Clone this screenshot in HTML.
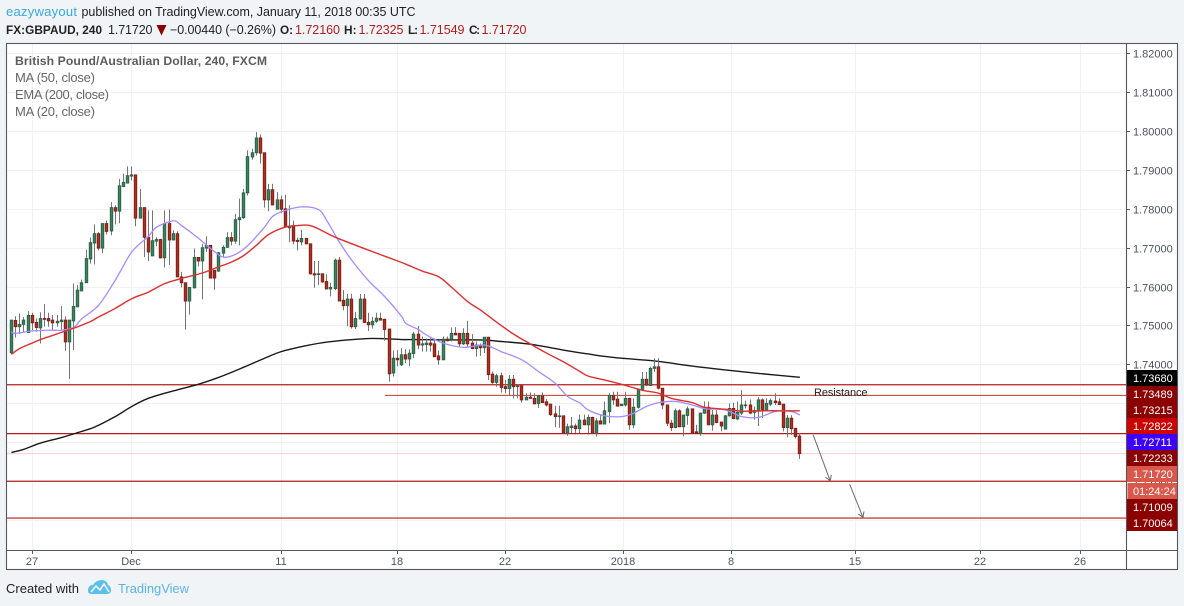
<!DOCTYPE html>
<html lang="en">
<head>
<meta charset="utf-8">
<title>FX:GBPAUD chart</title>
<style>
html,body{margin:0;padding:0;width:1184px;height:606px;overflow:hidden;background:#f1f4f7;}
svg{display:block;font-family:"Liberation Sans",Arial,sans-serif;}
</style>
</head>
<body>
<svg id="root" xmlns="http://www.w3.org/2000/svg" width="1184" height="606" viewBox="0 0 1184 606">
  <rect x="0" y="0" width="1184" height="606" fill="#f1f4f7"/>

  <g font-size="12.5" fill="#222">
    <text x="6" y="16" font-size="13" fill="#36a9e0" textLength="71">eazywayout</text>
    <text x="81.5" y="16" textLength="334">published on TradingView.com, January 11, 2018 00:35 UTC</text>
  </g>

  <g font-size="12.5" fill="#222">
    <text x="6" y="34" font-size="11.8" font-weight="bold" textLength="96">FX:GBPAUD, 240</text>
    <text x="108" y="34" textLength="44.5">1.71720</text>
    <polygon points="156.5,25 166.5,25 161.5,35.5" fill="#8b0000"/>
    <text x="170" y="34" textLength="106">−0.00440 (−0.26%)</text>
    <text x="280" y="34" font-size="11.8" font-weight="bold" textLength="13">O:</text>
    <text x="295" y="34" fill="#b21c1c" textLength="45">1.72160</text>
    <text x="344" y="34" font-size="11.8" font-weight="bold" textLength="12.5">H:</text>
    <text x="358.5" y="34" fill="#b21c1c" textLength="45">1.72325</text>
    <text x="408" y="34" font-size="11.8" font-weight="bold" textLength="10">L:</text>
    <text x="419.5" y="34" fill="#b21c1c" textLength="45">1.71549</text>
    <text x="469" y="34" font-size="11.8" font-weight="bold" textLength="11">C:</text>
    <text x="481.5" y="34" fill="#b21c1c" textLength="45">1.71720</text>
  </g>

  <rect x="6.5" y="43.5" width="1171" height="526" fill="#ffffff"/>
  <g id="grid"></g>
  <g id="levels"></g>
  <g id="ema"></g>
  <g id="candles"></g>
  <g id="mas"></g>
  <g id="arrows"></g>

  <text x="814" y="396" font-size="11" fill="#222" textLength="53.5">Resistance</text>

  <g font-size="13" fill="#666">
    <text x="15" y="65" font-size="12.2" font-weight="bold" fill="#5c5c5c" textLength="252">British Pound/Australian Dollar, 240, FXCM</text>
    <text x="15" y="82" textLength="80">MA (50, close)</text>
    <text x="15" y="99" textLength="94">EMA (200, close)</text>
    <text x="15" y="116" textLength="80">MA (20, close)</text>
  </g>

  <rect x="1127" y="44" width="50" height="525" fill="#ffffff"/>
  <g id="priceAxis"></g>
  <g id="timeAxis"></g>
  <g id="priceLabels"></g>

  <g stroke="#55585f" stroke-width="1.1" fill="none">
    <rect x="6.5" y="43.5" width="1171" height="526"/>
    <line x1="1126.5" y1="43.5" x2="1126.5" y2="569.5"/>
    <line x1="6.5" y1="550.5" x2="1177.5" y2="550.5"/>
  </g>

  <g>
    <text x="6" y="593" font-size="13" fill="#222" textLength="73">Created with</text>
    <g>
      <path d="M88 591 Q88 585 93 585 Q96 580 102 580 Q107 580 108 585 Q111.500 587 111 591 Q110 594 107 594 L92 594 Q88 594 88 591 Z" fill="#5bbfe8"/>
      <path d="M91 592 L96 586 L100 590 L104 584 L109 592" fill="none" stroke="#f1f4f7" stroke-width="1.600"/>
    </g>
    <text x="118" y="593" font-size="13" fill="#5ab5e5" textLength="71">TradingView</text>
  </g>
</svg>

<script>
const opens = [
1.7431,1.7514,1.7498,1.7504,1.7483,1.7527,1.7509,1.7495,1.7519,1.7519,
1.7515,1.7508,1.7511,1.7515,1.7459,1.7513,1.7549,1.7590,1.7611,1.7672,
1.7713,1.7737,1.7700,1.7763,1.7744,1.7804,1.7795,1.7858,1.7867,1.7885,
1.7888,1.7777,1.7804,1.7728,1.7680,1.7718,1.7722,1.7675,1.7763,1.7721,
1.7737,1.7626,1.7611,1.7564,1.7598,1.7676,1.7667,1.7700,1.7707,1.7643,
1.7641,1.7687,1.7702,1.7727,1.7718,1.7773,1.7778,1.7842,1.7934,1.7945,
1.7983,1.7945,1.7824,1.7850,1.7800,1.7824,1.7801,1.7752,1.7756,1.7720,
1.7716,1.7725,1.7711,1.7634,1.7632,1.7634,1.7614,1.7595,1.7596,1.7669,
1.7566,1.7552,1.7569,1.7498,1.7518,1.7569,1.7509,1.7503,1.7512,1.7519,
1.7517,1.7492,1.7379,1.7417,1.7400,1.7426,1.7415,1.7429,1.7479,1.7451,
1.7452,1.7456,1.7454,1.7423,1.7413,1.7466,1.7466,1.7481,1.7481,1.7454,
1.7481,1.7456,1.7442,1.7451,1.7444,1.7471,1.7376,1.7355,1.7372,1.7344,
1.7339,1.7363,1.7344,1.7346,1.7310,1.7317,1.7314,1.7301,1.7320,1.7305,
1.7299,1.7274,1.7267,1.7269,1.7225,1.7239,1.7243,1.7236,1.7258,1.7246,
1.7265,1.7225,1.7256,1.7248,1.7280,1.7321,1.7312,1.7295,1.7297,1.7314,
1.7246,1.7291,1.7337,1.7363,1.7347,1.7391,1.7395,1.7340,1.7297,1.7250,
1.7239,1.7282,1.7241,1.7270,1.7287,1.7228,1.7224,1.7276,1.7291,1.7246,
1.7271,1.7253,1.7235,1.7269,1.7288,1.7261,1.7276,1.7295,1.7297,1.7278,
1.7282,1.7310,1.7284,1.7299,1.7307,1.7305,1.7299,1.7239,1.7263,1.7237,
1.7217];
const highs = [
1.7515,1.7525,1.7532,1.7523,1.7538,1.7534,1.7519,1.7535,1.7556,1.7534,
1.7528,1.7528,1.7551,1.7525,1.7515,1.7609,1.7605,1.7619,1.7696,1.7727,
1.7761,1.7741,1.7763,1.7771,1.7818,1.7810,1.7878,1.7891,1.7910,1.7910,
1.7888,1.7852,1.7805,1.7797,1.7797,1.7728,1.7724,1.7797,1.7799,1.7746,
1.7743,1.7639,1.7611,1.7599,1.7699,1.7677,1.7711,1.7730,1.7707,1.7643,
1.7690,1.7707,1.7741,1.7741,1.7788,1.7827,1.7852,1.7951,1.7955,1.7998,
1.7992,1.7945,1.7865,1.7865,1.7844,1.7835,1.7837,1.7810,1.7771,1.7727,
1.7747,1.7726,1.7711,1.7667,1.7667,1.7634,1.7633,1.7611,1.7673,1.7677,
1.7592,1.7582,1.7583,1.7536,1.7582,1.7582,1.7534,1.7523,1.7534,1.7534,
1.7519,1.7492,1.7437,1.7438,1.7443,1.7440,1.7440,1.7485,1.7500,1.7473,
1.7468,1.7471,1.7468,1.7437,1.7473,1.7473,1.7496,1.7497,1.7481,1.7494,
1.7513,1.7479,1.7460,1.7455,1.7471,1.7471,1.7383,1.7377,1.7380,1.7361,
1.7374,1.7374,1.7349,1.7346,1.7327,1.7329,1.7327,1.7320,1.7329,1.7312,
1.7299,1.7295,1.7295,1.7269,1.7249,1.7266,1.7249,1.7272,1.7272,1.7272,
1.7267,1.7263,1.7271,1.7306,1.7327,1.7331,1.7331,1.7299,1.7331,1.7314,
1.7314,1.7337,1.7382,1.7382,1.7395,1.7417,1.7417,1.7340,1.7297,1.7259,
1.7288,1.7286,1.7271,1.7293,1.7287,1.7246,1.7277,1.7306,1.7306,1.7284,
1.7284,1.7254,1.7271,1.7301,1.7303,1.7306,1.7335,1.7308,1.7311,1.7293,
1.7317,1.7314,1.7314,1.7314,1.7327,1.7314,1.7299,1.7271,1.7271,1.7237,
1.7224];
const lows = [
1.7429,1.7470,1.7479,1.7485,1.7482,1.7489,1.7485,1.7455,1.7498,1.7498,
1.7491,1.7498,1.7491,1.7436,1.7364,1.7438,1.7549,1.7590,1.7611,1.7660,
1.7658,1.7694,1.7687,1.7735,1.7733,1.7761,1.7764,1.7857,1.7867,1.7874,
1.7756,1.7776,1.7677,1.7667,1.7679,1.7705,1.7673,1.7650,1.7657,1.7720,
1.7626,1.7599,1.7491,1.7529,1.7596,1.7653,1.7568,1.7690,1.7622,1.7593,
1.7639,1.7677,1.7701,1.7707,1.7711,1.7707,1.7775,1.7835,1.7927,1.7938,
1.7917,1.7804,1.7795,1.7810,1.7799,1.7790,1.7752,1.7716,1.7710,1.7694,
1.7707,1.7710,1.7632,1.7598,1.7605,1.7611,1.7595,1.7576,1.7592,1.7564,
1.7540,1.7499,1.7493,1.7492,1.7517,1.7508,1.7487,1.7493,1.7508,1.7515,
1.7462,1.7357,1.7370,1.7396,1.7397,1.7404,1.7397,1.7417,1.7440,1.7434,
1.7434,1.7434,1.7420,1.7400,1.7413,1.7460,1.7460,1.7477,1.7445,1.7451,
1.7445,1.7440,1.7421,1.7423,1.7430,1.7361,1.7351,1.7344,1.7329,1.7327,
1.7323,1.7314,1.7314,1.7303,1.7310,1.7312,1.7298,1.7289,1.7302,1.7293,
1.7269,1.7240,1.7238,1.7223,1.7218,1.7225,1.7225,1.7225,1.7246,1.7225,
1.7223,1.7215,1.7248,1.7248,1.7250,1.7297,1.7293,1.7295,1.7293,1.7233,
1.7237,1.7288,1.7335,1.7346,1.7346,1.7382,1.7337,1.7286,1.7243,1.7230,
1.7237,1.7240,1.7216,1.7246,1.7224,1.7224,1.7218,1.7274,1.7246,1.7231,
1.7250,1.7229,1.7235,1.7267,1.7260,1.7259,1.7271,1.7288,1.7274,1.7259,
1.7243,1.7263,1.7282,1.7294,1.7297,1.7297,1.7229,1.7214,1.7220,1.7211,
1.7158];
const closes = [
1.7515,1.7498,1.7504,1.7515,1.7527,1.7508,1.7496,1.7519,1.7518,1.7513,
1.7508,1.7512,1.7515,1.7459,1.7515,1.7550,1.7592,1.7611,1.7673,1.7714,
1.7737,1.7700,1.7763,1.7743,1.7804,1.7795,1.7860,1.7869,1.7886,1.7888,
1.7777,1.7804,1.7728,1.7690,1.7719,1.7722,1.7675,1.7763,1.7721,1.7737,
1.7626,1.7611,1.7564,1.7599,1.7676,1.7667,1.7701,1.7707,1.7623,1.7623,
1.7688,1.7702,1.7727,1.7718,1.7773,1.7778,1.7842,1.7935,1.7945,1.7983,
1.7944,1.7824,1.7850,1.7811,1.7824,1.7800,1.7754,1.7756,1.7718,1.7717,
1.7725,1.7711,1.7634,1.7631,1.7634,1.7613,1.7595,1.7599,1.7669,1.7564,
1.7552,1.7569,1.7498,1.7519,1.7569,1.7509,1.7503,1.7512,1.7520,1.7515,
1.7491,1.7377,1.7417,1.7413,1.7426,1.7415,1.7430,1.7479,1.7451,1.7454,
1.7456,1.7451,1.7421,1.7413,1.7466,1.7462,1.7481,1.7477,1.7454,1.7481,
1.7454,1.7442,1.7451,1.7444,1.7471,1.7375,1.7355,1.7372,1.7342,1.7339,
1.7363,1.7344,1.7346,1.7310,1.7317,1.7314,1.7300,1.7320,1.7303,1.7297,
1.7272,1.7267,1.7269,1.7225,1.7241,1.7243,1.7236,1.7258,1.7246,1.7265,
1.7225,1.7256,1.7248,1.7282,1.7321,1.7310,1.7294,1.7299,1.7314,1.7246,
1.7291,1.7337,1.7363,1.7348,1.7391,1.7395,1.7340,1.7297,1.7250,1.7239,
1.7282,1.7241,1.7271,1.7287,1.7226,1.7224,1.7276,1.7291,1.7246,1.7271,
1.7252,1.7243,1.7269,1.7288,1.7262,1.7278,1.7297,1.7297,1.7276,1.7283,
1.7310,1.7284,1.7301,1.7308,1.7303,1.7298,1.7239,1.7263,1.7236,1.7216,
1.7172];

const ma20Bars = [0,1,5,9,12,15,17,21,25,29,33,35,39,41,45,48,51,54,57,61,63,66,70,74,76,79,82,86,90,94,95,98,100,104,109,114,118,123,127,131,134,137,139,143,147,150,153,156,160,164,167,172,176,180,184,188,190];
const ma20Values = [1.7485,1.7481,1.7487,1.7489,1.7489,1.7496,1.7519,1.7553,1.7617,1.7690,1.7730,1.7754,1.7770,1.7758,1.7726,1.7699,1.7677,1.7684,1.7707,1.7754,1.7782,1.7797,1.7806,1.7799,1.7771,1.7716,1.7669,1.7617,1.7575,1.7525,1.7507,1.7491,1.7477,1.7456,1.7445,1.7451,1.7434,1.7413,1.7383,1.7353,1.7319,1.7302,1.7284,1.7269,1.7267,1.7276,1.7293,1.7303,1.7306,1.7297,1.7288,1.7284,1.7267,1.7265,1.7280,1.7280,1.7271];

const ma50Bars = [0,2,5,7,10,13,16,19,21,25,29,33,37,41,46,50,53,56,59,62,66,69,72,75,78,84,89,91,95,99,103,106,110,113,117,121,125,129,133,137,139,143,147,152,156,159,164,167,172,176,182,186,190];
const ma50Values = [1.7427,1.7442,1.7456,1.7465,1.7476,1.7487,1.7498,1.7511,1.7523,1.7545,1.7570,1.7587,1.7609,1.7622,1.7636,1.7652,1.7664,1.7681,1.7707,1.7735,1.7754,1.7758,1.7758,1.7744,1.7728,1.7703,1.7683,1.7675,1.7659,1.7641,1.7626,1.7600,1.7562,1.7541,1.7509,1.7479,1.7454,1.7430,1.7408,1.7383,1.7371,1.7361,1.7350,1.7335,1.7327,1.7314,1.7303,1.7291,1.7286,1.7281,1.7282,1.7282,1.7282];

const ema200Bars = [0,3,7,12,16,20,25,29,33,39,45,50,56,61,65,70,75,81,87,94,97,105,113,117,125,134,139,142,147,155,164,172,180,190];
const ema200Values = [1.7175,1.7183,1.7199,1.7213,1.7226,1.7240,1.7267,1.7293,1.7314,1.7333,1.7350,1.7368,1.7394,1.7417,1.7434,1.7447,1.7457,1.7464,1.7468,1.7465,1.7465,1.7464,1.7464,1.7461,1.7453,1.7436,1.7428,1.7423,1.7417,1.7410,1.7397,1.7387,1.7378,1.7368];

const priceTicks = [1.82,1.81,1.80,1.79,1.78,1.77,1.76,1.75,1.74,1.73,1.72,1.71,1.70];
const timeTickBars = [5,29,65.2,93.1,119.1,147.4,173.4,203.3,233.4,257.5];
const timeTickLabels = ["27","Dec","11","18","22","2018","8","15","22","26"];

const fullLevels = [1.73489,1.72233,1.71009,1.70064];
const resistanceLevel = 1.73215;
const resistanceStartBar = 90;
const lastPrice = 1.7172;

const arrowStartBars = [193.2,202];
const arrowStartPrices = [1.7220,1.7093];
const arrowEndBars = [197.3,205.2];
const arrowEndPrices = [1.7102,1.7008];

const priceLabelTexts = ["1.73680","1.73489","1.73215","1.72822","1.72711","1.72233","1.71720"];
const lowerLabelTexts = ["1.71009","1.70064"];
const countdownText = "01:24:24";

const NS = "http://www.w3.org/2000/svg";
function xOf(bar){ return 11.4 + 4.15 * bar; }
function snap(bar){ return Math.round(xOf(bar) - 0.5) + 0.5; }
function yOf(price){ return 53.5 + (1.82 - price) * 3892; }
function make(tag, parentId, attrs){
  const el = document.createElementNS(NS, tag);
  for (const k in attrs) el.setAttribute(k, attrs[k]);
  document.getElementById(parentId).appendChild(el);
  return el;
}
function pathOf(bars, values){
  const pts = bars.map(function(b, i){ return [xOf(b), yOf(values[i])]; });
  let d = "M" + pts[0][0].toFixed(2) + " " + pts[0][1].toFixed(2);
  for (let i = 0; i < pts.length - 1; i++) {
    const p0 = pts[Math.max(i - 1, 0)], p1 = pts[i], p2 = pts[i + 1], p3 = pts[Math.min(i + 2, pts.length - 1)];
    const c1x = p1[0] + (p2[0] - p0[0]) / 6, c1y = p1[1] + (p2[1] - p0[1]) / 6;
    const c2x = p2[0] - (p3[0] - p1[0]) / 6, c2y = p2[1] - (p3[1] - p1[1]) / 6;
    d += " C" + c1x.toFixed(2) + " " + c1y.toFixed(2) + " " + c2x.toFixed(2) + " " + c2y.toFixed(2) + " " + p2[0].toFixed(2) + " " + p2[1].toFixed(2);
  }
  return d;
}

priceTicks.forEach(function(p){
  const y = Math.floor(yOf(p)) + 0.5;
  const g = make("line", "grid", {x1:7, x2:1126, y1:y, y2:y, stroke:"#f0f1f2", "stroke-width":1});
  
  
  const t = make("line", "priceAxis", {x1:1126.5, x2:1130, y1:y, y2:y, stroke:"#55585f", "stroke-width":1});
  
  
  const l = make("text", "priceAxis", {x:1133, y:y + 4.2, "font-size":11, fill:"#4c525e"});
  
  
  l.textContent = p.toFixed(5);
});

timeTickBars.forEach(function(b, i){
  const x = snap(b);
  const g = make("line", "grid", {x1:x, x2:x, y1:44, y2:550, stroke:"#f0f1f2", "stroke-width":1});
  
  
  const t = make("line", "timeAxis", {x1:x, x2:x, y1:550.5, y2:554, stroke:"#55585f", "stroke-width":1});
  
  
  const l = make("text", "timeAxis", {x:x - 0.5, y:565, "font-size":11, fill:"#4c525e", "text-anchor":"middle"});
  
  
  l.textContent = timeTickLabels[i];
});

const lastLine = make("line", "levels", {x1:7, x2:1126, y1:yOf(lastPrice), y2:yOf(lastPrice), stroke:"#f6cfcb", "stroke-width":1});



fullLevels.forEach(function(p){
  const l = make("line", "levels", {x1:7, x2:1126, y1:yOf(p), y2:yOf(p), stroke:"#b71c1c", "stroke-width":1.2});
  
  
});

const resLine = make("line", "levels", {x1:xOf(resistanceStartBar), x2:1126, y1:yOf(resistanceLevel), y2:yOf(resistanceLevel), stroke:"#c0392b", "stroke-width":1});



const emaLine = make("path", "ema", {d:pathOf(ema200Bars, ema200Values), fill:"none", stroke:"#1a1a1a", "stroke-width":1.4, "stroke-linejoin":"round"});



opens.forEach(function(o, i){
  const c = closes[i];
  const up = c >= o;
  const x = snap(i);
  const wick = make("line", "candles", {x1:x, x2:x, y1:yOf(highs[i]), y2:yOf(lows[i]), stroke:"#757575", "stroke-width":1});
  
  
  const top = yOf(Math.max(o, c));
  const bottom = yOf(Math.min(o, c));
  const body = make("rect", "candles", {x:x - 1.25, y:top, width:2.5, height:Math.max(bottom - top, 0.8), fill:up ? "#3a8560" : "#ad2e22", stroke:up ? "#2c5f46" : "#7a1f17", "stroke-width":0.9});
  
  
});

const ma20Line = make("path", "mas", {d:pathOf(ma20Bars, ma20Values), fill:"none", stroke:"#a58cff", "stroke-width":1.3, "stroke-linejoin":"round"});



const ma50Line = make("path", "mas", {d:pathOf(ma50Bars, ma50Values), fill:"none", stroke:"#dc2f2f", "stroke-width":1.4, "stroke-linejoin":"round"});



arrowStartBars.forEach(function(b, i){
  const x1 = xOf(b), y1 = yOf(arrowStartPrices[i]);
  const x2 = xOf(arrowEndBars[i]), y2 = yOf(arrowEndPrices[i]);
  const a = Math.atan2(y2 - y1, x2 - x1);
  const hx1 = x2 - 6 * Math.cos(a - 0.55), hy1 = y2 - 6 * Math.sin(a - 0.55);
  const hx2 = x2 - 6 * Math.cos(a + 0.55), hy2 = y2 - 6 * Math.sin(a + 0.55);
  const d = "M" + x1 + " " + y1 + " L" + x2 + " " + y2 + " M" + hx1 + " " + hy1 + " L" + x2 + " " + y2 + " L" + hx2 + " " + hy2;
  const arrow = make("path", "arrows", {d:d, fill:"none", stroke:"#6b6b6b", "stroke-width":1});
  
  
});

function priceLabel(text, top, height, fill, left){
  const box = make("rect", "priceLabels", {x:left, y:top, width:1177 - left, height:height, fill:fill});
  
  
  const t = make("text", "priceLabels", {x:1133, y:top + height / 2 + 4, "font-size":11, fill:"#ffffff"});
  
  
  t.textContent = text;
}
const labelFills = ["#000000","#8b0000","#8b0000","#cc0000","#3c00ff","#8b0000","#d9584b"];
priceLabelTexts.forEach(function(text, i){
  priceLabel(text, 370 + 16 * i, 16, labelFills[i], 1127);
});
priceLabel(countdownText, 483, 16, "#d9584b", 1127.5);
lowerLabelTexts.forEach(function(text, i){
  priceLabel(text, 499 + 16 * i, 16, "#8b0000", 1127);
});
</script>
</body>
</html>
